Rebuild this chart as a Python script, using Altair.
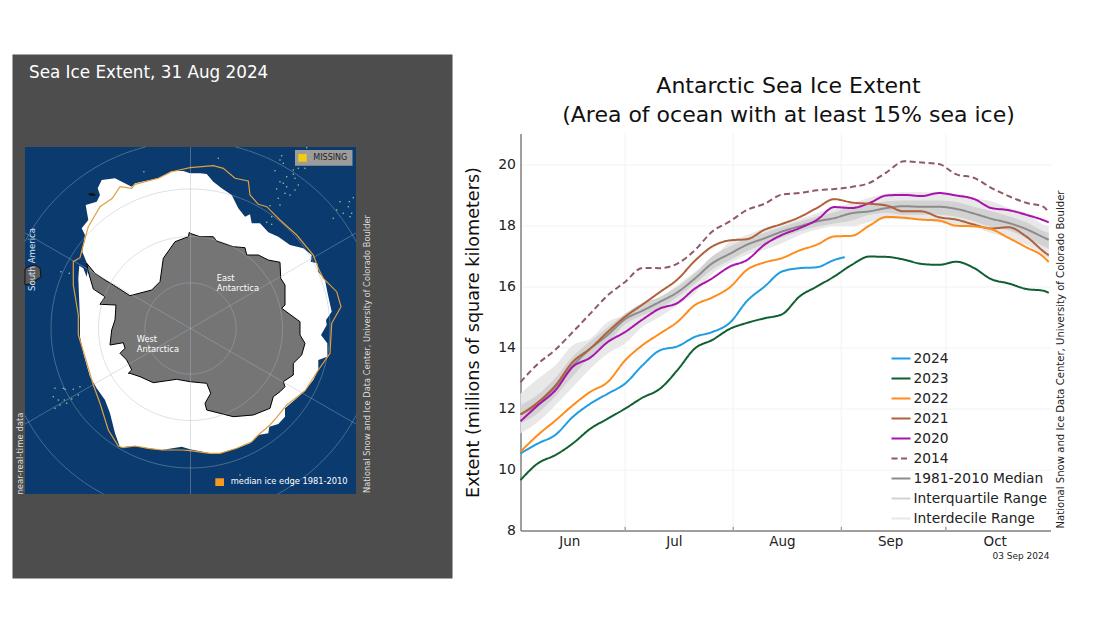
import altair as alt
import numpy as np
import pandas as pd

# ---------- extent chart data (millions of sq km); day 0 = 1 June ----------
days = [0, 5, 10, 15, 20, 25, 30, 35, 40, 45, 50, 55, 60, 65, 70, 75, 80, 85, 90, 95,
        100, 105, 110, 115, 120, 125, 130, 135, 140, 145, 150, 151.5]
days_2024 = days[:19] + [93]
y2024 = [10.52, 10.85, 11.13, 11.72, 12.15, 12.48, 12.81, 13.41, 13.9, 14.03, 14.34, 14.5, 14.8,
         15.52, 15.99, 16.48, 16.59, 16.62, 16.86, 16.95]
y2023 = [9.65, 10.2, 10.47, 10.85, 11.33, 11.66, 11.99, 12.35, 12.64, 13.25, 13.96, 14.24, 14.6,
         14.8, 14.95, 15.08, 15.66, 15.99, 16.32, 16.7, 16.97, 16.96, 16.87, 16.73, 16.7, 16.8,
         16.6, 16.23, 16.09, 15.91, 15.85, 15.78]
y2022 = [10.58, 11.13, 11.6, 12.1, 12.54, 12.86, 13.57, 14.07, 14.45, 14.83, 15.38, 15.63, 15.96,
         16.54, 16.78, 16.92, 17.17, 17.36, 17.63, 17.65, 17.98, 18.27, 18.24, 18.18, 18.15,
         17.98, 17.96, 17.87, 17.58, 17.28, 16.96, 16.79]
y2021 = [11.8, 12.2, 12.75, 13.52, 13.96, 14.5, 15.0, 15.4, 15.81, 16.22, 16.83, 17.3, 17.5,
         17.54, 17.85, 18.04, 18.26, 18.56, 18.85, 18.74, 18.7, 18.64, 18.45, 18.45, 18.26,
         18.18, 18.02, 17.89, 17.93, 17.63, 17.14, 17.01]
y2020 = [11.58, 12.1, 12.59, 13.36, 13.66, 14.17, 14.5, 14.91, 15.27, 15.45, 15.92, 16.26, 16.64,
         16.86, 17.36, 17.68, 17.9, 18.17, 18.59, 18.56, 18.72, 18.97, 18.99, 18.95, 19.05,
         18.97, 18.86, 18.56, 18.49, 18.34, 18.16, 18.09]
y2014 = [12.86, 13.46, 13.92, 14.5, 15.1, 15.7, 16.14, 16.6, 16.59, 16.74, 17.18, 17.79, 18.12,
         18.5, 18.7, 19.0, 19.05, 19.14, 19.18, 19.25, 19.38, 19.73, 20.09, 20.05, 20.0, 19.66,
         19.55, 19.22, 18.95, 18.73, 18.6, 18.4]
median = [11.8, 12.15, 12.7, 13.4, 13.95, 14.4, 14.92, 15.2, 15.49, 15.8, 16.25, 16.75, 17.06,
          17.36, 17.57, 17.79, 17.96, 18.12, 18.23, 18.39, 18.45, 18.56, 18.62, 18.6, 18.6,
          18.53, 18.38, 18.21, 18.07, 17.87, 17.6, 17.52]
iqr_hi = [12.1, 12.45, 13.0, 13.7, 14.2, 14.65, 15.1, 15.45, 15.65, 15.98, 16.42, 16.98, 17.3,
          17.55, 17.75, 17.95, 18.12, 18.28, 18.42, 18.6, 18.67, 18.78, 18.81, 18.81, 18.81,
          18.76, 18.6, 18.45, 18.29, 18.1, 17.8, 17.74]
iqr_lo = [11.5, 11.85, 12.4, 13.05, 13.7, 14.15, 14.75, 15.05, 15.28, 15.65, 16.08, 16.55, 16.85,
          17.15, 17.38, 17.6, 17.8, 17.95, 18.05, 18.15, 18.34, 18.4, 18.34, 18.34, 18.34,
          18.27, 18.13, 17.94, 17.83, 17.58, 17.31, 17.22]
idr_hi = [12.48, 12.97, 13.41, 14.07, 14.28, 14.83, 15.05, 15.38, 15.65, 16.03, 16.47, 16.9, 17.45,
          17.68, 17.9, 18.07, 18.2, 18.39, 18.59, 18.72, 18.9, 19.03, 19.08, 19.08, 19.05,
          19.03, 18.89, 18.78, 18.56, 18.4, 18.02, 17.96]
idr_lo = [11.18, 11.55, 12.1, 12.7, 13.3, 13.79, 14.12, 14.67, 15.0, 15.38, 15.76, 16.4, 16.75,
          17.03, 17.19, 17.41, 17.68, 17.85, 17.96, 17.96, 18.1, 18.2, 18.18, 18.18, 18.07,
          18.02, 17.94, 17.74, 17.58, 17.36, 17.03, 16.89]

month_starts = [30, 61, 92, 122]
month_mids = [14, 44, 75, 106, 136]
month_names = ["Jun", "Jul", "Aug", "Sep", "Oct"]
y_ticks = [8, 10, 12, 14, 16, 18, 20]

legend_names = ["2024", "2023", "2022", "2021", "2020", "2014", "1981-2010 Median",
                "Interquartile Range", "Interdecile Range"]
legend_colors = ["#1f9de0", "#0f5f30", "#ff8c1a", "#b0603a", "#a912ab", "#8f5a66", "#8c8c8c",
                 "#d2d2d2", "#e8e8e8"]
legend_widths = [2, 2, 2, 2, 2, 2, 2, 5, 5]
legend_dashes = [[1, 0], [1, 0], [1, 0], [1, 0], [1, 0], [6, 3.5], [1, 0], [1, 0], [1, 0]]

# ---------- map outlines, in reference-picture pixels ----------
ice_x = [190, 200, 206.7, 213.3, 221.7, 231.7, 238.3, 245, 250, 251.7, 260, 268.3, 278.3, 290, 303.3,
         311.7, 310.7, 317.3, 318.3, 325, 327.3, 331.7, 326, 326.7, 321, 327.3, 327.3, 318.3, 318.3,
         313.3, 305, 296.7, 285, 285, 278.3, 269.3, 268.3, 258.3, 250, 236.7, 220, 210, 190, 181.7,
         161.7, 148.3, 135, 120, 115, 110, 105, 96.7, 90, 83.3, 80, 80, 78.3, 79.3, 83.3, 86.7, 88.3,
         82.3, 85, 81.7, 88.3, 85.7, 96.7, 100, 97.7, 101.7, 115, 131.7, 135, 158.3, 171.7, 183.3]
ice_y = [173.3, 173.3, 174, 181.7, 188.3, 195, 208.3, 216.7, 214.3, 223.3, 223.3, 232.3, 236.7, 245,
         248.3, 255, 261.7, 263.3, 271.7, 280, 291.7, 311.7, 320, 325, 335, 343.3, 356.7, 360, 370,
         380, 390.7, 398.3, 408.3, 416.7, 424, 426.7, 433.3, 435, 443.3, 448.3, 453.3, 453.3, 449.3,
         446.7, 450, 448.3, 446, 447.3, 433.3, 413.3, 400, 388.3, 376.7, 353.3, 336.7, 320, 278.3,
         265.7, 268.3, 276.7, 266.7, 251.7, 235, 228.3, 220, 205, 201.7, 195, 188.3, 180, 178.3,
         186.7, 183.3, 178.3, 171, 171]
land_x = [189.3, 190, 200, 213.3, 216.7, 233.3, 245, 246.7, 258.3, 268.3, 280, 280.7, 285, 285, 281.7,
          300, 300, 305, 301.7, 293.3, 293.3, 283.3, 285, 280, 273.3, 270, 253.3, 233.3, 206.7, 205,
          210.7, 206.7, 190, 176.7, 153.3, 140, 130, 128.3, 131.7, 126.7, 120, 125, 123.3, 110, 111.7,
          115, 116, 100, 105, 93.3, 88.3, 86.7, 95, 105, 113.3, 130, 151.7, 160, 163.3, 175, 188.3]
land_y = [232.3, 233.3, 236.7, 236.7, 241, 246.7, 247.7, 255, 255, 260, 262.3, 278.3, 285, 305, 308.3,
          321.7, 335, 343.3, 355, 363.3, 375, 381.7, 386.7, 391.7, 396.7, 408.3, 415, 416.7, 410, 403.3,
          393.3, 383.3, 381.7, 379.3, 382.7, 376.7, 373.3, 373.3, 370, 360, 353.3, 348.3, 342.7, 345, 330,
          320, 305, 304.3, 296.7, 289, 271.7, 263.3, 273.3, 280, 285, 295.7, 290, 281.7, 258.3, 241.7, 236.7]
edge_x = [190, 213.3, 223.3, 235, 248.3, 250, 258.3, 266.7, 280, 296.7, 313.3, 318.3, 323.3, 336.7, 341,
          331.7, 330, 318.3, 305, 286.7, 277.3, 270, 258.3, 251.7, 236.7, 220, 210, 190, 181.7, 161.7,
          148.3, 135, 123.3, 118.3, 108.3, 100, 93.3, 85, 78.3, 78.3, 78.3, 73.3, 73.3, 80, 83.3, 88.3,
          100, 112.3, 120, 131.7, 135, 158.3, 171.7, 190]
edge_y = [167.7, 165.7, 168.3, 178.3, 181, 195, 204.3, 206.7, 220, 235, 255, 268.3, 278.3, 291.7, 306.7,
          323.3, 353.3, 370, 390.7, 405, 416.7, 425, 435, 441.7, 448.3, 453.3, 453.3, 450.7, 450, 450,
          448.3, 446, 447.7, 446, 430, 403.3, 385, 356.7, 335, 320, 315, 285, 261.7, 257.7, 245, 226.7,
          206.7, 198.3, 186.7, 188.3, 184.3, 178.3, 171.7, 167.7]
south_america_x = [25, 30, 35, 40, 41, 36, 32, 28, 25]
south_america_y = [269, 266, 265, 268, 277, 280, 285, 284, 285]
island_x = [88.5, 92, 96, 94, 89]
island_y = [193.5, 193, 194.5, 196, 195.5]
speck_x = [218.3, 281.7, 280, 283.3, 275, 306.7, 298.3, 293.3, 286.7, 280, 283.3, 286.7, 276.7, 295, 298.3,
           305, 293.3, 278.3, 280, 285, 290, 295, 270, 271.7, 266.7, 271.7, 340, 349.3, 348.3, 336.7, 333.3,
           343.3, 351.7, 353.3, 350, 55, 63.3, 73.3, 80, 53.3, 58.3, 64.3, 71.7, 78.3, 60, 66.7, 55, 65,
           61, 69.3, 143.9, 240]
speck_y = [158.3, 155.7, 160, 163.3, 170.7, 147.7, 168.3, 170, 176.7, 181.7, 183.3, 186.7, 189, 178.3, 185,
           168.3, 174.3, 198.3, 205, 193.3, 195, 190, 205.7, 216.7, 222.3, 224.3, 201.7, 201.7, 206.7, 210,
           218.3, 213.3, 213.3, 197.7, 216.7, 388.3, 388.3, 389.3, 386.7, 396.7, 400, 400, 399, 395, 405,
           403.3, 408.3, 389.3, 271.7, 273.3, 171.7, 475]
pole = (190.5, 328.5)
ring_radii = [45.6, 92, 139.5, 187]
spoke_angles = [90, 30, 150]
OX, OY = 12, 54  # top-left of the grey panel in the picture


def vx(x):
    return x - OX


def vy(y):
    return y - OY


def poly(xs, ys):
    pts = [[vx(a), vy(b)] for a, b in zip(xs, ys)]
    pts.append(pts[0])
    return {"type": "Feature", "properties": {}, "geometry": {"type": "Polygon", "coordinates": [pts]}}


def line(pts):
    return {"type": "Feature", "properties": {},
            "geometry": {"type": "LineString", "coordinates": [[vx(a), vy(b)] for a, b in pts]}}


proj = dict(type="identity", scale=1, translate=[0, 0],
            clipExtent=[[vx(25), vy(147)], [vx(356), vy(494)]])


def shape(features, **style):
    return alt.Chart(alt.Data(values=features)).mark_geoshape(**style).project(**proj)


def box(x0, y0, x1, y1):
    return poly([x0, x1, x1, x0], [y0, y0, y1, y1])


rings = []
theta = np.linspace(0, 2 * np.pi, 241)
for r in ring_radii:
    rings.append(line([(pole[0] + r * c, pole[1] + r * s) for c, s in zip(np.cos(theta), np.sin(theta))]))
for a in spoke_angles:
    c, s = np.cos(np.radians(a)), np.sin(np.radians(a))
    rings.append(line([(pole[0] - 300 * c, pole[1] + 300 * s), (pole[0] + 300 * c, pole[1] - 300 * s)]))


def map_text(text, x, y, size, color, align="left", angle=0):
    df = pd.DataFrame({"lon": [vx(x)], "lat": [vy(y)], "t": [text]})
    return alt.Chart(df).mark_text(font="DejaVu Sans", fontSize=size, color=color, align=align,
                                   baseline="middle", angle=angle).encode(
        longitude="lon:Q", latitude="lat:Q", text="t:N").project(**proj)


specks = pd.DataFrame({"lon": [vx(v) for v in speck_x], "lat": [vy(v) for v in speck_y]})

left = alt.layer(
    shape([box(25, 147, 356, 494)], fill="#0a3a6e", stroke="transparent"),
    shape([poly(south_america_x, south_america_y)], fill="#5a5a5a", stroke="#111111", strokeWidth=1),
    shape([poly(island_x, island_y)], fill="#111111", stroke="transparent"),
    shape([poly(ice_x, ice_y)], fill="#ffffff", stroke="transparent"),
    shape([poly(land_x, land_y)], fill="#757575", stroke="#000000", strokeWidth=1),
    shape(rings, filled=False, stroke="#a8b8c8", strokeWidth=0.8, opacity=0.5),
    alt.Chart(specks).mark_circle(size=2.5, color="#8fd48f", opacity=1).encode(
        longitude="lon:Q", latitude="lat:Q").project(**proj),
    shape([line(list(zip(edge_x, edge_y)))], filled=False, stroke="#e0a040", strokeWidth=1.2),
    shape([box(295, 150, 352.5, 165.7)], fill="#9c9c9c", stroke="transparent"),
    shape([box(298.3, 154, 306.7, 161.7)], fill="#f2cc0f", stroke="transparent"),
    shape([box(215.3, 478.3, 224, 486)], fill="#f59a1c", stroke="transparent"),
    map_text("Sea Ice Extent, 31 Aug 2024", 29, 73, 16.8, "#ffffff"),
    map_text("MISSING", 313.3, 157.7, 8, "#222222"),
    map_text("median ice edge 1981-2010", 230.7, 482.3, 8.3, "#ffffff"),
    map_text("East", 216.7, 279, 8.3, "#ffffff"),
    map_text("Antarctica", 216.7, 289, 8.3, "#ffffff"),
    map_text("West", 136.7, 340, 8.3, "#ffffff"),
    map_text("Antarctica", 136.7, 350, 8.3, "#ffffff"),
    map_text("South America", 32.3, 259.5, 8.6, "#d5e5f5", align="center", angle=270),
    map_text("near-real-time data", 20, 453.5, 8.5, "#dddddd", align="center", angle=270),
    map_text("National Snow and Ice Data Center, University of Colorado Boulder", 368, 354, 8.3,
             "#dddddd", align="center", angle=270),
).properties(width=440, height=524, view=alt.ViewBackground(fill="#4d4d4d", stroke="transparent"))

# ---------- extent chart ----------
rows = []
for name, xs, ys in [("1981-2010 Median", days, median), ("2014", days, y2014), ("2020", days, y2020),
                     ("2021", days, y2021), ("2022", days, y2022), ("2023", days, y2023),
                     ("2024", days_2024, y2024)]:
    rows += [{"day": a, "value": b, "series": name} for a, b in zip(xs, ys)]
lines_df = pd.DataFrame(rows)
bands_df = pd.DataFrame({"day": days, "iqr_lo": iqr_lo, "iqr_hi": iqr_hi, "idr_lo": idr_lo, "idr_hi": idr_hi})
months_df = pd.DataFrame({"day": month_starts})

x_scale = alt.Scale(domain=[0, 152], nice=False, zero=False)
y_scale = alt.Scale(domain=[8, 21], nice=False, zero=False)
label_expr = "{}[indexof({}, datum.value)]".format(month_names, month_mids)
x_axis = alt.Axis(values=month_mids, labelExpr=label_expr, title=None, grid=False, ticks=False,
                  domainColor="#808080", domainWidth=1.5, labelFont="DejaVu Sans", labelFontSize=13.5,
                  labelColor="#222222", labelPadding=4, labelFlush=False, labelOverlap=False)
y_axis = alt.Axis(values=y_ticks, title="Extent (millions of square kilometers)", grid=True, gridColor="#f2f2f2",
                  ticks=False, domainColor="#808080", domainWidth=1.5, labelFont="DejaVu Sans",
                  labelFontSize=14, labelColor="#222222", labelPadding=5, titleFont="DejaVu Sans",
                  titleFontSize=17.6, titleFontWeight="normal", titleColor="#111111", titlePadding=15)
X = alt.X("day:Q", scale=x_scale, axis=x_axis)
legend = alt.Legend(orient="none", legendX=878.5, legendY=294, title=None, symbolType="stroke", symbolSize=361,
                    labelFont="DejaVu Sans", labelFontSize=13.8, labelColor="#222222", labelOffset=2,
                    rowPadding=2, padding=0, symbolOpacity=1)
series_domain = alt.Scale(domain=legend_names, range=legend_colors)

main = alt.layer(
    alt.Chart(months_df).mark_rule(color="#f2f2f2", strokeWidth=1).encode(x=X),
    alt.Chart(bands_df).mark_area(color="#e8e8e8", interpolate="monotone").encode(
        x=X, y=alt.Y("idr_lo:Q", scale=y_scale, axis=y_axis), y2="idr_hi:Q"),
    alt.Chart(bands_df).mark_area(color="#d2d2d2", interpolate="monotone").encode(
        x=X, y=alt.Y("iqr_lo:Q", scale=y_scale, axis=y_axis), y2="iqr_hi:Q"),
    alt.Chart(lines_df).mark_line(interpolate="monotone").encode(
        x=X,
        y=alt.Y("value:Q", scale=y_scale, axis=y_axis),
        color=alt.Color("series:N", scale=series_domain, legend=legend, sort=None),
        strokeWidth=alt.StrokeWidth("series:N", scale=alt.Scale(domain=legend_names, range=legend_widths),
                                    legend=legend, sort=None),
        strokeDash=alt.StrokeDash("series:N", scale=alt.Scale(domain=legend_names, range=legend_dashes),
                                  legend=legend, sort=None),
        detail="series:N",
    ),
    alt.Chart(months_df).mark_rule(color="#808080", strokeWidth=1).encode(
        x=X, y=alt.Y(datum=8, scale=y_scale), y2=alt.Y2(datum=8.12)),
    alt.Chart(pd.DataFrame({"t": ["03 Sep 2024"]})).mark_text(
        font="DejaVu Sans", fontSize=9, align="right", baseline="middle", color="#222222").encode(
        x=alt.value(529), y=alt.value(422), text="t:N"),
    alt.Chart(pd.DataFrame({"t": ["National Snow and Ice Data Center, University of Colorado Boulder"]})).mark_text(
        font="DejaVu Sans", fontSize=10.1, align="center", baseline="middle", color="#222222", angle=270).encode(
        x=alt.value(540), y=alt.value(226), text="t:N"),
).properties(
    width=530, height=397, view=alt.ViewBackground(stroke="transparent"),
    title=alt.TitleParams(text=["Antarctic Sea Ice Extent", "(Area of ocean with at least 15% sea ice)"],
                          font="DejaVu Sans", fontSize=22, fontWeight="normal", color="#111111",
                          anchor="middle", lineHeight=29, dx=3, offset=6),
)

spacer = alt.Chart(pd.DataFrame({"a": [0]})).mark_rule(opacity=0).encode(x=alt.value(0)).properties(
    width=530, height=1, view=alt.ViewBackground(stroke="transparent"))

chart = alt.hconcat(left, alt.vconcat(spacer, main, spacing=18.5), spacing=10.5).properties(
    padding={"left": 3, "top": 45, "right": 0, "bottom": 0})

chart.save("out.html", embed_options={"renderer": "svg", "actions": False})
